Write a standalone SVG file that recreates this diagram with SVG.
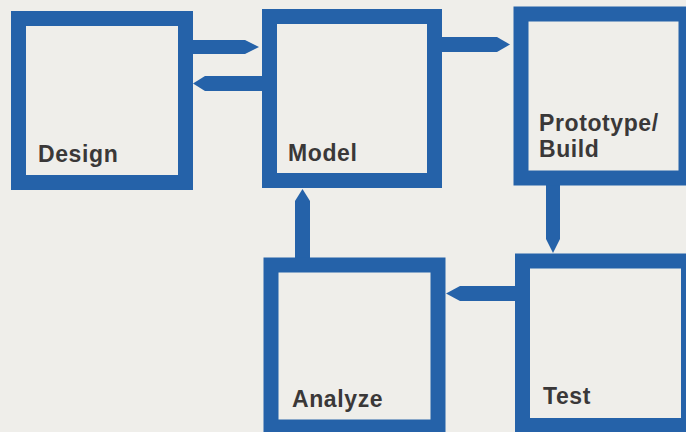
<svg xmlns="http://www.w3.org/2000/svg" width="686" height="432" viewBox="0 0 686 432">
<style>
.box{fill:none;stroke:#2562a9;stroke-width:15}
.arr{fill:#2562a9}
.lbl{font-family:"Liberation Sans",Arial,Helvetica,sans-serif;font-weight:bold;font-size:23px;letter-spacing:0.6px;fill:#3a3838}
</style>
<rect x="0" y="0" width="686" height="432" fill="#efeeea"/>
<g id="connectors">
<polygon class="arr" points="185,40 245,40 259,47 245,54 185,54"/>
<polygon class="arr" points="270,76 205,76 193,83.5 205,91 270,91"/>
<polygon class="arr" points="435,37 497,37 510,44.5 497,52 435,52"/>
<polygon class="arr" points="546,178 546,239 553,253 560,239 560,178"/>
<polygon class="arr" points="522,286 460,286 446,293.5 460,301 522,301"/>
<polygon class="arr" points="295,265 295,201 302.5,189 310,201 310,265"/>
</g>
<g id="design">
<rect class="box" x="18.5" y="18.5" width="167" height="164"/>
<text class="lbl" x="38" y="162">Design</text>
</g>
<g id="model">
<rect class="box" x="269.5" y="16.5" width="165" height="164"/>
<text class="lbl" x="288" y="161">Model</text>
</g>
<g id="prototype">
<rect class="box" x="521" y="14" width="165" height="164"/>
<text class="lbl" x="539" y="131">Prototype/</text>
<text class="lbl" x="539" y="157">Build</text>
</g>
<g id="test">
<rect class="box" x="522.5" y="261" width="166" height="164.5"/>
<text class="lbl" x="543" y="404">Test</text>
</g>
<g id="analyze">
<rect class="box" x="271" y="265" width="167" height="162"/>
<text class="lbl" x="292" y="407">Analyze</text>
</g>
</svg>
